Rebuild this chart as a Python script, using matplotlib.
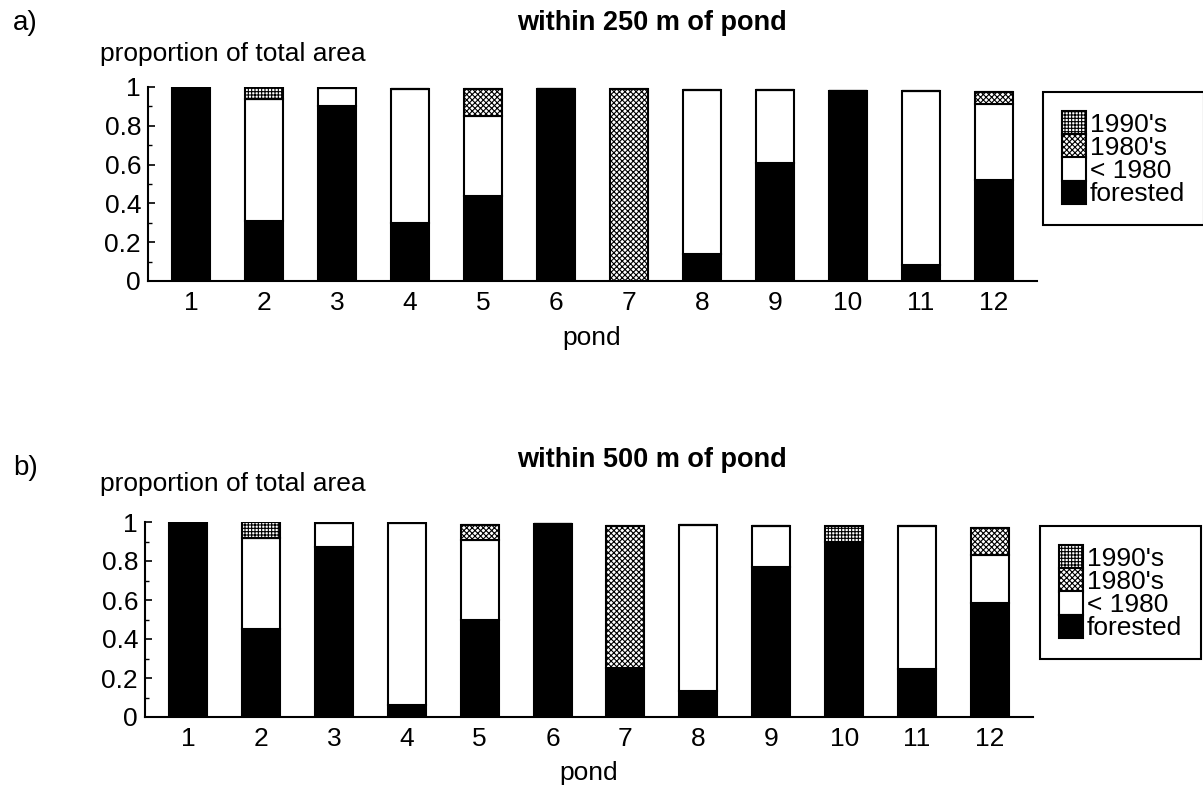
import matplotlib
matplotlib.use("Agg")
import matplotlib.pyplot as plt
from matplotlib.ticker import MultipleLocator

plt.rcParams['font.family'] = ['Liberation Sans', 'DejaVu Sans']
plt.rcParams['hatch.linewidth'] = 0.8

# pond numbers and land cover proportions
ponds = list(range(1, 13))
labels = ["forested", "< 1980", "1980's", "1990's"]

# a) within 250 m of pond
forested_250 = [1.00, 0.31, 0.90, 0.30, 0.44, 0.99, 0.00, 0.14, 0.61, 0.98, 0.08, 0.52]
pre1980_250 = [0.00, 0.63, 0.095, 0.69, 0.41, 0.00, 0.00, 0.845, 0.375, 0.00, 0.90, 0.39]
s1980_250 = [0.00, 0.00, 0.00, 0.00, 0.14, 0.00, 0.99, 0.00, 0.00, 0.00, 0.00, 0.065]
s1990_250 = [0.00, 0.06, 0.00, 0.00, 0.00, 0.00, 0.00, 0.00, 0.00, 0.00, 0.00, 0.00]

# b) within 500 m of pond
forested_500 = [1.00, 0.45, 0.87, 0.06, 0.50, 0.99, 0.25, 0.135, 0.77, 0.90, 0.245, 0.585]
pre1980_500 = [0.00, 0.47, 0.125, 0.935, 0.41, 0.00, 0.00, 0.85, 0.21, 0.00, 0.735, 0.245]
s1980_500 = [0.00, 0.00, 0.00, 0.00, 0.075, 0.00, 0.73, 0.00, 0.00, 0.00, 0.00, 0.14]
s1990_500 = [0.00, 0.08, 0.00, 0.00, 0.00, 0.00, 0.00, 0.00, 0.00, 0.08, 0.00, 0.00]

W, H = 1203, 792
FS = 19

fig = plt.figure(figsize=(W / 100, H / 100), dpi=100)


def stacked(ax, series, legend_top, legend_left):
    styles = [
        dict(facecolor="black", hatch=None),
        dict(facecolor="white", hatch=None),
        dict(facecolor="white", hatch="xxxxxx"),
        dict(facecolor="white", hatch="+++++"),
    ]
    bottom = [0.0] * len(ponds)
    handles = []
    for vals, st, lab in zip(series, styles, labels):
        bars = ax.bar(ponds, vals, width=0.52, bottom=bottom, edgecolor="black",
                      linewidth=1.5, label=lab, **st)
        handles.append(bars)
        bottom = [b + v for b, v in zip(bottom, vals)]

    ax.set_xlim(0.41, 12.59)
    ax.set_ylim(0, 1)
    ax.set_xticks(ponds)
    ax.set_xticklabels([str(p) for p in ponds])
    ax.set_yticks([0, 0.2, 0.4, 0.6, 0.8, 1])
    ax.set_yticklabels(["0", "0.2", "0.4", "0.6", "0.8", "1"])
    ax.yaxis.set_minor_locator(MultipleLocator(0.1))
    ax.tick_params(axis="y", which="major", direction="in", length=5, width=1.2,
                   labelsize=FS, pad=5)
    ax.tick_params(axis="y", which="minor", direction="in", length=3, width=1)
    ax.tick_params(axis="x", length=0, labelsize=FS, pad=7)
    for s in ["top", "right"]:
        ax.spines[s].set_visible(False)
    for s in ["left", "bottom"]:
        ax.spines[s].set_linewidth(1.5)

    leg = ax.legend(handles[::-1], labels[::-1], loc="upper left",
                    bbox_to_anchor=(legend_left / W, 1 - legend_top / H),
                    bbox_transform=fig.transFigure, fontsize=FS, frameon=True,
                    fancybox=False, edgecolor="black", framealpha=1,
                    borderpad=0.72, labelspacing=-0.1, handlelength=0.9,
                    handleheight=1.0, handletextpad=0.15, borderaxespad=0)
    leg.get_frame().set_linewidth(1.5)


ax_a = fig.add_axes([148 / W, 1 - 281 / H, (1037 - 148) / W, (281 - 87) / H])
stacked(ax_a, [forested_250, pre1980_250, s1980_250, s1990_250], 92, 1043)

ax_b = fig.add_axes([145 / W, 1 - 717 / H, (1033 - 145) / W, (717 - 522) / H])
stacked(ax_b, [forested_500, pre1980_500, s1980_500, s1990_500], 526, 1040)

# panel letters, titles and axis labels
fig.text(13 / W, 1 - 30 / H, "a)", fontsize=20, va="baseline")
fig.text(13 / W, 1 - 475 / H, "b)", fontsize=20, va="baseline")
fig.text(652 / W, 1 - 30 / H, "within 250 m of pond", fontsize=19.5,
         fontweight="bold", ha="center", va="baseline")
fig.text(652 / W, 1 - 467 / H, "within 500 m of pond", fontsize=19.5,
         fontweight="bold", ha="center", va="baseline")
fig.text(100 / W, 1 - 61 / H, "proportion of total area", fontsize=FS, va="baseline")
fig.text(100 / W, 1 - 491 / H, "proportion of total area", fontsize=FS, va="baseline")
fig.text(592 / W, 1 - 345 / H, "pond", fontsize=FS, ha="center", va="baseline")
fig.text(589 / W, 1 - 780 / H, "pond", fontsize=FS, ha="center", va="baseline")

fig.savefig("out.png", dpi=100)
